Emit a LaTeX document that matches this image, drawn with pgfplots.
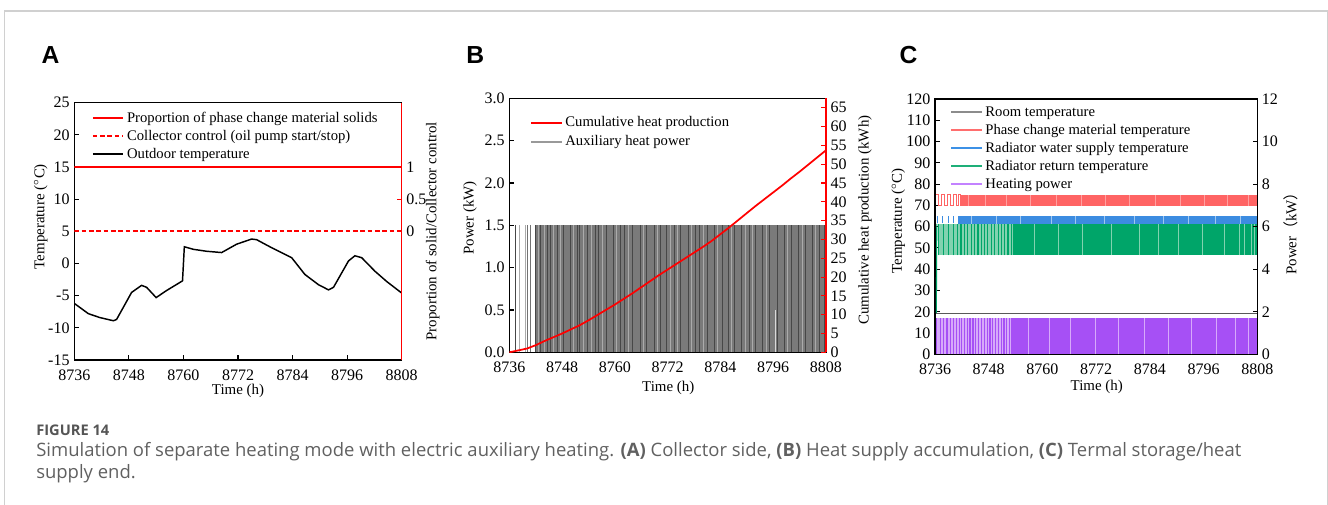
\documentclass[border=0pt]{standalone}
\usepackage{fontspec}
\setmainfont{Liberation Serif}
\newfontfamily\panelfont{Liberation Sans}
\newfontfamily\capfont{Open Sans}
\newfontfamily\cjk{Noto Sans CJK SC}
\usepackage{pgfplots}
\pgfplotsset{compat=1.18}

\definecolor{framegray}{RGB}{208,208,208}
\definecolor{capgray}{RGB}{96,96,96}
\definecolor{figgray}{RGB}{85,85,85}
\definecolor{pcmred}{RGB}{255,100,100}
\definecolor{pcmlight}{RGB}{255,160,160}
\definecolor{supblue}{RGB}{60,140,225}
\definecolor{suplight}{RGB}{160,200,240}
\definecolor{retgreen}{RGB}{0,165,105}
\definecolor{retlight}{RGB}{130,210,175}
\definecolor{powpurple}{RGB}{166,80,245}
\definecolor{powlight}{RGB}{215,170,250}
\definecolor{legred}{RGB}{255,110,110}
\definecolor{legblue}{RGB}{60,145,230}
\definecolor{leggreen}{RGB}{30,175,120}
\definecolor{legpurple}{RGB}{195,130,255}

\newcommand{\ticksize}{\fontsize{12}{14}\selectfont}
\newcommand{\labsize}{\fontsize{11.2}{13}\selectfont}
\newcommand{\legsize}{\fontsize{11}{13}\selectfont}

\pgfplotsset{
  panel/.style={
    scale only axis,
    anchor=south west,
    xmin=8736, xmax=8808,
    xtick={8736,8748,8760,8772,8784,8796,8808},
    xticklabel style={/pgf/number format/1000 sep={}, yshift=-3.5pt},
    tick align=inside,
    major tick length=3.5pt,
    every tick/.style={black, line width=0.8pt},
    axis line style={line width=1pt},
    tick label style={font=\ticksize},
    label style={font=\labsize},
    /pgf/number format/assume math mode=true,
    legend style={draw=none, fill=none, font=\legsize, inner sep=0pt,
      anchor=north west, row sep=0pt,
      nodes={inner ysep=0pt, text height=9.5pt, text depth=4pt}},
    legend cell align=left,
    legend image code/.code={\draw[##1] (0pt,0pt) -- (23pt,0pt);},
  },
  leftpanel/.style={panel, xtick pos=lower, ytick pos=left},
  rightpanel/.style={panel, axis x line=none, axis y line*=right},
}

\begin{document}
\begin{tikzpicture}
\useasboundingbox (0,0) rectangle (996pt,378.75pt);
% page frame
\draw[framegray, line width=0.8pt] (3.4pt,0pt) -- (3.4pt,370.5pt) -- (995.4pt,370.5pt) -- (995.4pt,0pt);

% panel letters
\node[anchor=base west, inner sep=0pt, font=\panelfont\bfseries\fontsize{18.5}{22}\selectfont] at (31pt,331.3pt) {A};
\node[anchor=base west, inner sep=0pt, font=\panelfont\bfseries\fontsize{18.5}{22}\selectfont] at (349.5pt,331.3pt) {B};
\node[anchor=base west, inner sep=0pt, font=\panelfont\bfseries\fontsize{18.5}{22}\selectfont] at (674.5pt,331.3pt) {C};

% ---------------- A: collector side ----------------
\begin{axis}[leftpanel, at={(55.7pt,108.75pt)}, width=245.6pt, height=193pt,
  ymin=-15, ymax=25, ytick={-15,-10,...,25},
  xlabel={Time (h)}, ylabel={Temperature ($^\circ$C)},
  xlabel style={at={(axis description cs:0.5,-0.12)}, anchor=center},
  ylabel style={at={(axis description cs:-0.1026,0.557)}, anchor=center}]
\addplot[color=black, line width=1.1pt] coordinates {
  (8736.0,-6.2) (8739.1,-7.8) (8741.6,-8.4) (8744.6,-8.9) (8745.3,-8.7)
  (8746.8,-6.8) (8748.6,-4.5) (8750.8,-3.4) (8751.9,-3.7) (8754.0,-5.3)
  (8756.3,-4.2) (8759.8,-2.7) (8760.2,2.6) (8762.2,2.2) (8765.1,1.9)
  (8768.4,1.7) (8771.7,3.0) (8775.0,3.8) (8776.1,3.7) (8779.0,2.6)
  (8783.8,0.9) (8786.7,-1.7) (8789.7,-3.3) (8791.9,-4.1) (8793.0,-3.7)
  (8796.3,0.4) (8797.7,1.2) (8799.2,0.9) (8802.1,-1.2) (8804.7,-2.8)
  (8808.0,-4.6)};
\end{axis}
\begin{axis}[rightpanel, at={(55.7pt,108.75pt)}, width=245.6pt, height=193pt,
  ymin=-2, ymax=2, ytick={0,0.5,1},
  y axis line style={draw=red, line width=1pt},
  ytick style={draw=red, line width=0.8pt},
  ylabel={Proportion of solid/Collector control},
  ylabel style={at={(axis description cs:1.0947,0.5)}, anchor=center},
  legend style={at={(axis description cs:0.053,0.975)}}]
\addplot[color=red, line width=1.4pt] coordinates {(8736,1) (8808,1)};
\addlegendentry{Proportion of phase change material solids}
\addplot[color=red, line width=1.4pt, dash pattern=on 3.5pt off 2pt] coordinates {(8736,0) (8808,0)};
\addlegendentry{Collector control (oil pump start/stop)}
\addlegendimage{color=black, line width=1.4pt}
\addlegendentry{Outdoor temperature}
\end{axis}

% ---------------- B: heat supply accumulation ----------------
\begin{axis}[leftpanel, at={(382pt,114.5pt)}, width=237.5pt, height=190.5pt,
  ymin=0, ymax=3, ytick={0,0.5,...,3},
  yticklabel style={/pgf/number format/.cd, fixed, fixed zerofill, precision=1},
  xlabel={Time (h)}, ylabel={Power (kW)},
  xlabel style={at={(axis description cs:0.502,-0.1417)}, anchor=center},
  ylabel style={at={(axis description cs:-0.124,0.529)}, anchor=center}]
% auxiliary heater switching (1.5 kW when on)
\addplot[fill=black!52, draw=none] coordinates {(8741.8,0) (8808,0) (8808,1.5) (8741.8,1.5)} -- cycle;
\addplot[ycomb, color=black!72, line width=0.55pt] coordinates {
  (8737.3,1.5) (8741.9,1.5) (8743.1,1.5) (8744.6,1.5) (8745.3,1.5) (8747.0,1.5)
  (8748.2,1.5) (8749.9,1.5) (8751.4,1.5) (8752.0,1.5) (8753.7,1.5) (8755.5,1.5)
  (8756.2,1.5) (8758.0,1.5) (8759.6,1.5) (8761.3,1.5) (8762.1,1.5) (8764.0,1.5)
  (8765.8,1.5) (8767.2,1.5) (8768.9,1.5) (8770.4,1.5) (8771.7,1.5) (8773.5,1.5)
  (8775.0,1.5) (8776.8,1.5) (8778.3,1.5) (8779.1,1.5) (8781.0,1.5) (8782.6,1.5)
  (8784.4,1.5) (8785.9,1.5) (8787.1,1.5) (8788.8,1.5) (8790.5,1.5) (8792.0,1.5)
  (8793.6,1.5) (8795.2,1.5) (8797.0,1.5) (8798.5,1.5) (8800.1,1.5) (8801.8,1.5)
  (8803.3,1.5) (8804.9,1.5) (8806.4,1.5) (8807.6,1.5)};
\addplot[ycomb, color=black!33, line width=0.6pt] coordinates {
  (8738.4,1.5) (8739.6,1.5) (8742.6,1.5) (8744.0,1.5) (8746.1,1.5) (8747.6,1.5)
  (8750.6,1.5) (8752.8,1.5) (8754.6,1.5) (8757.1,1.5) (8760.4,1.5) (8763.0,1.5)
  (8766.5,1.5) (8769.7,1.5) (8772.6,1.5) (8774.2,1.5) (8777.5,1.5) (8780.2,1.5)
  (8783.3,1.5) (8786.5,1.5) (8789.6,1.5) (8791.3,1.5) (8794.4,1.5) (8799.3,1.5)
  (8802.6,1.5) (8805.6,1.5)};
\addplot[ycomb, color=black!55, line width=0.7pt] coordinates {(8740.2,1.5) (8740.9,1.5)};
\addplot[ycomb, color=black!15, line width=0.5pt] coordinates {(8796.4,0.5)};
\end{axis}
\begin{axis}[rightpanel, at={(382pt,114.5pt)}, width=237.5pt, height=190.5pt,
  ymin=0, ymax=67.5, ytick={0,5,...,65},
  y axis line style={draw=red, line width=1pt},
  ytick style={draw=red, line width=0.8pt},
  ylabel={Cumulative heat production (kWh)},
  ylabel style={at={(axis description cs:1.123,0.52)}, anchor=center},
  legend style={at={(axis description cs:0.065,0.94)}, row sep=0.75pt}]
\addplot[color=red, line width=1.3pt] coordinates {
  (8736,0.0) (8738,0.5) (8740,1.0) (8742,1.9) (8744,3.0) (8746,4.0) (8748,5.0)
  (8750,6.1) (8752,7.2) (8754,8.5) (8756,9.9) (8758,11.3) (8760,12.7)
  (8762,14.2) (8764,15.7) (8766,17.3) (8768,18.9) (8770,20.5) (8772,22.0)
  (8774,23.5) (8776,25.0) (8778,26.5) (8780,28.0) (8782,29.6) (8784,31.4)
  (8786,33.2) (8788,35.1) (8790,37.0) (8792,38.9) (8794,40.7) (8796,42.5)
  (8798,44.3) (8800,46.2) (8802,48.0) (8804,49.9) (8806,51.8) (8808,53.7)};
\addlegendentry{Cumulative heat production}
\addlegendimage{color=black!40, line width=1.4pt}
\addlegendentry{Auxiliary heat power}
\end{axis}

% ---------------- C: thermal storage / heat supply end ----------------
\begin{axis}[leftpanel, at={(701.25pt,113pt)}, width=241.7pt, height=191.5pt,
  ymin=0, ymax=120, ytick={0,10,...,120},
  xlabel={Time (h)}, ylabel={Temperature ($^\circ$C)},
  xlabel style={at={(axis description cs:0.502,-0.127)}, anchor=center},
  ylabel style={at={(axis description cs:-0.114,0.523)}, anchor=center},
  unbounded coords=jump, filter discard warning=false]
% phase change material temperature
\addplot[const plot, color=pcmred, line width=0.8pt] coordinates {
  (8736.2,75) (8736.8,70) (8737.5,75) (8738.1,70) (8738.8,75) (8739.4,70)
  (8740.1,75) (8740.7,70) (8741.3,75) (8741.6,70)};
\addplot[fill=pcmred, draw=none] coordinates {(8741.6,69.8) (8808,69.8) (8808,75) (8741.6,75)} -- cycle;
\addplot[color=pcmlight, line width=0.5pt] coordinates {
  (8743.5,69.8)(8743.5,75)(8743.5,nan) (8747.2,69.8)(8747.2,75)(8747.2,nan)
  (8752.0,69.8)(8752.0,75)(8752.0,nan) (8757.4,69.8)(8757.4,75)(8757.4,nan)
  (8763.1,69.8)(8763.1,75)(8763.1,nan) (8768.6,69.8)(8768.6,75)(8768.6,nan)
  (8774.0,69.8)(8774.0,75)(8774.0,nan) (8779.5,69.8)(8779.5,75)(8779.5,nan)
  (8785.2,69.8)(8785.2,75)(8785.2,nan) (8790.7,69.8)(8790.7,75)(8790.7,nan)
  (8796.1,69.8)(8796.1,75)(8796.1,nan) (8801.4,69.8)(8801.4,75)(8801.4,nan)
  (8806.0,69.8)(8806.0,75)(8806.0,nan)};
% radiator supply temperature
\addplot[color=supblue, line width=0.7pt] coordinates {
  (8736.5,61.5)(8736.5,65)(8736.5,nan) (8737.6,61.5)(8737.6,65)(8737.6,nan)
  (8738.9,61.5)(8738.9,65)(8738.9,nan) (8740.2,61.5)(8740.2,65)(8740.2,nan)};
\addplot[fill=supblue, draw=none] coordinates {(8741.1,61.3) (8808,61.3) (8808,65) (8741.1,65)} -- cycle;
\addplot[color=suplight, line width=0.5pt] coordinates {
  (8744.2,61.3)(8744.2,65)(8744.2,nan) (8749.8,61.3)(8749.8,65)(8749.8,nan)
  (8755.1,61.3)(8755.1,65)(8755.1,nan) (8761.9,61.3)(8761.9,65)(8761.9,nan)
  (8767.3,61.3)(8767.3,65)(8767.3,nan) (8773.8,61.3)(8773.8,65)(8773.8,nan)
  (8780.6,61.3)(8780.6,65)(8780.6,nan) (8786.9,61.3)(8786.9,65)(8786.9,nan)
  (8792.5,61.3)(8792.5,65)(8792.5,nan) (8798.7,61.3)(8798.7,65)(8798.7,nan)
  (8804.3,61.3)(8804.3,65)(8804.3,nan)};
% radiator return temperature
\addplot[color=retgreen, line width=0.8pt] coordinates {(8736.3,19.5) (8736.4,61.3)};
\addplot[fill=retlight, draw=none] coordinates {(8736.6,46.5) (8753.4,46.5) (8753.4,61.3) (8736.6,61.3)} -- cycle;
\addplot[color=retgreen, line width=0.8pt] coordinates {
  (8736.8,46.5)(8736.8,61.3)(8736.8,nan) (8737.9,46.5)(8737.9,61.3)(8737.9,nan)
  (8739.0,46.5)(8739.0,61.3)(8739.0,nan) (8740.1,46.5)(8740.1,61.3)(8740.1,nan)
  (8741.0,46.5)(8741.0,61.3)(8741.0,nan) (8741.8,46.5)(8741.8,61.3)(8741.8,nan)
  (8742.5,46.5)(8742.5,61.3)(8742.5,nan) (8743.3,46.5)(8743.3,61.3)(8743.3,nan)
  (8744.1,46.5)(8744.1,61.3)(8744.1,nan) (8744.8,46.5)(8744.8,61.3)(8744.8,nan)
  (8745.6,46.5)(8745.6,61.3)(8745.6,nan) (8746.3,46.5)(8746.3,61.3)(8746.3,nan)
  (8747.1,46.5)(8747.1,61.3)(8747.1,nan) (8747.8,46.5)(8747.8,61.3)(8747.8,nan)
  (8748.6,46.5)(8748.6,61.3)(8748.6,nan) (8749.3,46.5)(8749.3,61.3)(8749.3,nan)
  (8750.1,46.5)(8750.1,61.3)(8750.1,nan) (8750.8,46.5)(8750.8,61.3)(8750.8,nan)
  (8751.6,46.5)(8751.6,61.3)(8751.6,nan) (8752.3,46.5)(8752.3,61.3)(8752.3,nan)
  (8753.0,46.5)(8753.0,61.3)(8753.0,nan)};
\addplot[fill=retgreen, draw=none] coordinates {(8753.4,46.5) (8808,46.5) (8808,61.3) (8753.4,61.3)} -- cycle;
\addplot[color=retlight, line width=0.5pt] coordinates {
  (8758.2,46.5)(8758.2,61.3)(8758.2,nan) (8763.5,46.5)(8763.5,61.3)(8763.5,nan)
  (8769.0,46.5)(8769.0,61.3)(8769.0,nan) (8775.3,46.5)(8775.3,61.3)(8775.3,nan)
  (8781.7,46.5)(8781.7,61.3)(8781.7,nan) (8786.0,46.5)(8786.0,61.3)(8786.0,nan)
  (8790.4,46.5)(8790.4,61.3)(8790.4,nan) (8795.8,46.5)(8795.8,61.3)(8795.8,nan)
  (8800.6,46.5)(8800.6,61.3)(8800.6,nan) (8803.9,46.5)(8803.9,61.3)(8803.9,nan)
  (8805.2,46.5)(8805.2,61.3)(8805.2,nan) (8806.7,46.5)(8806.7,61.3)(8806.7,nan)
  (8807.4,46.5)(8807.4,61.3)(8807.4,nan)};
% room temperature
\addplot[color=black!65, line width=0.9pt] coordinates {(8736.3,19.3) (8808,19.3)};
\end{axis}
\begin{axis}[rightpanel, at={(701.25pt,113pt)}, width=241.7pt, height=191.5pt,
  ymin=0, ymax=12, ytick={0,2,...,12},
  ylabel={Power{\cjk （}kW{\cjk ）}},
  ylabel style={at={(axis description cs:1.1036,0.487)}, anchor=center},
  legend style={at={(axis description cs:0.0465,0.984)}}]
\addlegendimage{color=black!45, line width=1.3pt}
\addlegendentry{Room temperature}
\addlegendimage{color=legred, line width=1.4pt}
\addlegendentry{Phase change material temperature}
\addlegendimage{color=legblue, line width=1.4pt}
\addlegendentry{Radiator water supply temperature}
\addlegendimage{color=leggreen, line width=1.4pt}
\addlegendentry{Radiator return temperature}
% heating power
\addplot[fill=powlight, draw=none, forget plot] coordinates {(8736.3,0) (8753.4,0) (8753.4,1.7) (8736.3,1.7)} -- cycle;
\addplot[ycomb, color=powpurple, line width=0.9pt, forget plot] coordinates {
  (8736.4,1.7) (8737.2,1.7) (8737.9,1.7) (8738.7,1.7) (8739.4,1.7) (8740.1,1.7)
  (8740.8,1.7) (8741.4,1.7) (8742.0,1.7) (8742.6,1.7) (8743.2,1.7) (8743.8,1.7)
  (8744.5,1.7) (8745.1,1.7) (8745.8,1.7) (8746.4,1.7) (8747.0,1.7) (8747.7,1.7)
  (8748.3,1.7) (8748.9,1.7) (8749.5,1.7) (8750.2,1.7) (8750.8,1.7) (8751.4,1.7)
  (8752.0,1.7) (8752.7,1.7) (8753.2,1.7)};
\addplot[fill=powpurple, draw=none, forget plot] coordinates {(8753.4,0) (8808,0) (8808,1.7) (8753.4,1.7)} -- cycle;
\addplot[ycomb, color=powlight, line width=0.5pt, forget plot] coordinates {
  (8756.8,1.7) (8761.5,1.7) (8766.2,1.7) (8771.9,1.7) (8777.0,1.7) (8782.8,1.7)
  (8788.1,1.7) (8793.3,1.7) (8798.9,1.7) (8803.1,1.7) (8806.1,1.7)};
\addlegendimage{color=legpurple, line width=1.4pt}
\addlegendentry{Heating power}
\end{axis}

% caption
\node[anchor=base west, inner sep=0pt, text=figgray, font=\capfont\bfseries\fontsize{11}{13}\selectfont] at (27pt,52pt) {FIGURE 14};
\node[anchor=base west, inner sep=0pt, text=capgray, font=\capfont\fontsize{13.85}{16}\selectfont] at (27pt,36.2pt)
  {Simulation of separate heating mode with electric auxiliary heating. \textbf{(A)} Collector side, \textbf{(B)} Heat supply accumulation, \textbf{(C)} Termal storage/heat};
\node[anchor=base west, inner sep=0pt, text=capgray, font=\capfont\fontsize{13.85}{16}\selectfont] at (27pt,19.8pt) {supply end.};
\end{tikzpicture}
\end{document}
